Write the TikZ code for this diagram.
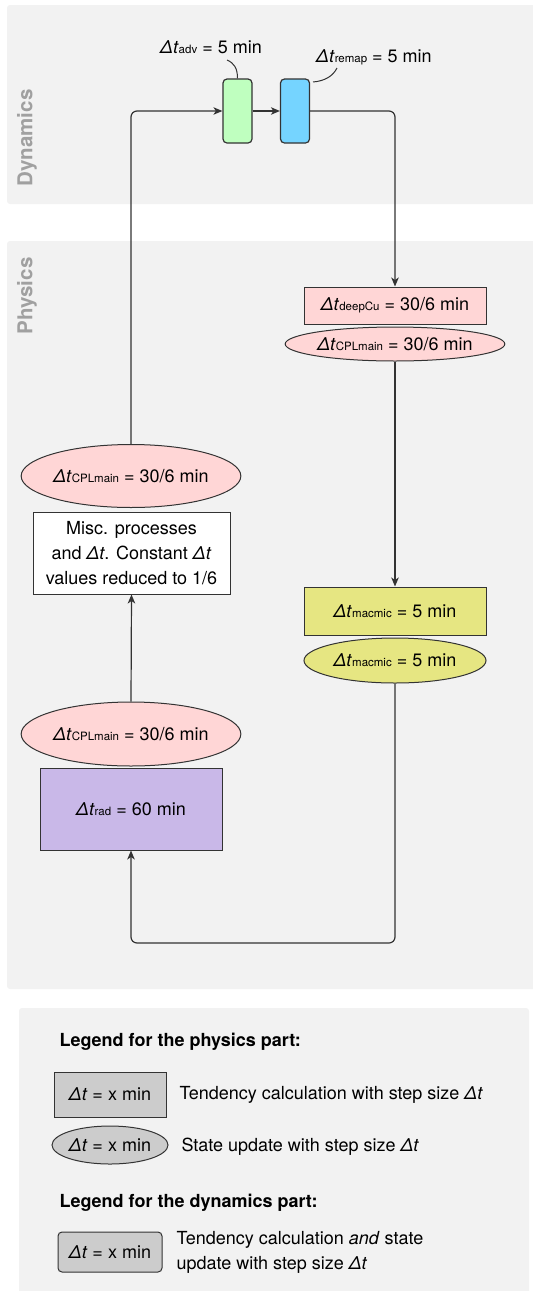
\documentclass[tikz,border=0pt]{standalone}
\usepackage{fontspec}
\setmainfont{TeX Gyre Heros}
\usetikzlibrary{shapes.geometric,arrows.meta}

\definecolor{panelgray}{HTML}{F2F2F2}
\definecolor{labelgray}{HTML}{A0A0A0}
\definecolor{advgreen}{HTML}{BFFFBF}
\definecolor{remapblue}{HTML}{75D4FF}
\definecolor{cplpink}{HTML}{FFD6D6}
\definecolor{macyellow}{HTML}{E6E682}
\definecolor{radpurple}{HTML}{C9B8E8}
\definecolor{leggray}{HTML}{CCCCCC}
\definecolor{linegray}{HTML}{333333}

\newcommand{\dtsub}[1]{\textit{Δt}{\fontsize{11.5}{12}\selectfont #1}}
\newcommand{\dtx}{\textit{Δt}}

\tikzset{
  >={Stealth[length=9pt,width=7.5pt,inset=2.5pt]},
  panel/.style={fill=panelgray, draw=none, rounded corners=3pt},
  panellabel/.style={rotate=90, text=labelgray, font=\fontsize{20.5}{22}\selectfont\bfseries},
  dynbox/.style={draw=linegray, line width=1.2pt, rounded corners=4pt, minimum width=29pt, minimum height=64pt, inner sep=0pt},
  tendbox/.style={draw=linegray, line width=1pt, minimum width=182pt, inner sep=0pt},
  updell/.style={ellipse, draw=linegray, line width=1pt, minimum width=182pt, inner sep=0pt},
  flow/.style={draw=linegray, line width=1.2pt, rounded corners=6pt},
}

\begin{document}
\begin{tikzpicture}[x=1pt,y=-1pt, font=\fontsize{18}{25}\selectfont]
  \useasboundingbox (0,0) rectangle (533,1291);
  % background panels
  \fill[panel] (7,5) rectangle (540,204); % dynamics
  \fill[panel] (7,241) rectangle (540,989); % physics
  \fill[panel] (19,1008) rectangle (529,1300); % legend
  \node[panellabel] (dynlabel) at (27,138) {Dynamics};
  \node[panellabel] (physlabel) at (27,296) {Physics};

  % dynamics part
  \node[dynbox, fill=advgreen] (adv) at (237.5,111) {};
  \node[dynbox, fill=remapblue] (remap) at (295,111) {};
  \node (advtext) at (211,47) {\dtsub{adv} = 5 min};
  \node (remaptext) at (374,57) {\dtsub{remap} = 5 min};
  \coordinate (advtip) at (227,60);
  \coordinate (remaptip) at (337,68);
  \draw[linegray, line width=1pt] (adv.north) .. controls (237.5,68) and (234,63) .. (advtip); % callout adv
  \draw[linegray, line width=1pt] (313,82) .. controls (325,81) and (333,76) .. (remaptip); % callout remap

  % physics part, right column
  \node[tendbox, fill=cplpink, minimum height=37pt] (deepcu) at (395,305.5) {\dtsub{deepCu} = 30/6 min};
  \node[updell, fill=cplpink, minimum height=34pt] (cplright) at (395,344) {\dtsub{CPLmain} = 30/6 min};
  \node[tendbox, fill=macyellow, minimum height=48pt] (macbox) at (395,611) {\dtsub{macmic} = 5 min};
  \node[updell, fill=macyellow, minimum height=45pt] (macell) at (395,660.5) {\dtsub{macmic} = 5 min};

  % physics part, left column
  \node[tendbox, fill=radpurple, minimum height=82pt] (rad) at (131,809) {\dtsub{rad} = 60 min};
  \node[updell, fill=cplpink, minimum height=64pt] (cpllow) at (131,734) {\dtsub{CPLmain} = 30/6 min};
  \node[tendbox, fill=white, minimum width=197pt, minimum height=82pt, align=center] (misc) at (131.5,553)
    {Misc. processes\\and \dtx. Constant \dtx\\values reduced to 1/6};
  \node[updell, fill=cplpink, minimum height=63pt] (cplup) at (131,476) {\dtsub{CPLmain} = 30/6 min};

  % connectors
  \coordinate (loopturn) at (131,943);
  \draw[flow, ->] (cplup.north) |- (adv.west);
  \draw[flow, ->] (adv.east) -- (remap.west);
  \draw[flow, ->] (remap.east) -| (deepcu.north);
  \draw[flow, ->] (cplright.south) -- (macbox.north);
  \draw[flow, ->] (macell.south) |- (loopturn) -- (rad.south);
  \draw[flow, ->] (cpllow.north) -- (misc.south);

  % legend
  \node[anchor=west, font=\fontsize{18}{25}\selectfont\bfseries] (legphys) at (56,1042) {Legend for the physics part:};
  \node[draw=linegray, line width=1pt, fill=leggray, minimum width=112pt, minimum height=45pt, inner sep=0pt] (legbox) at (110,1094.5) {\dtx{} = x min};
  \node[anchor=west] (legboxtext) at (176,1095) {Tendency calculation with step size \dtx};
  \node[ellipse, draw=linegray, line width=1pt, fill=leggray, minimum width=116pt, minimum height=38pt, inner sep=0pt] (legell) at (110,1145) {\dtx{} = x min};
  \node[anchor=west] (legelltext) at (178,1147) {State update with step size \dtx};
  \node[anchor=west, font=\fontsize{18}{25}\selectfont\bfseries] (legdyn) at (56,1203) {Legend for the dynamics part:};
  \node[draw=linegray, line width=1pt, fill=leggray, rounded corners=4pt, minimum width=104pt, minimum height=40pt, inner sep=0pt] (legdynbox) at (110,1252) {\dtx{} = x min};
  \node[anchor=west, align=left] (legdyntext) at (173,1252) {Tendency calculation \textit{and} state\\update with step size \dtx};
\end{tikzpicture}
\end{document}
